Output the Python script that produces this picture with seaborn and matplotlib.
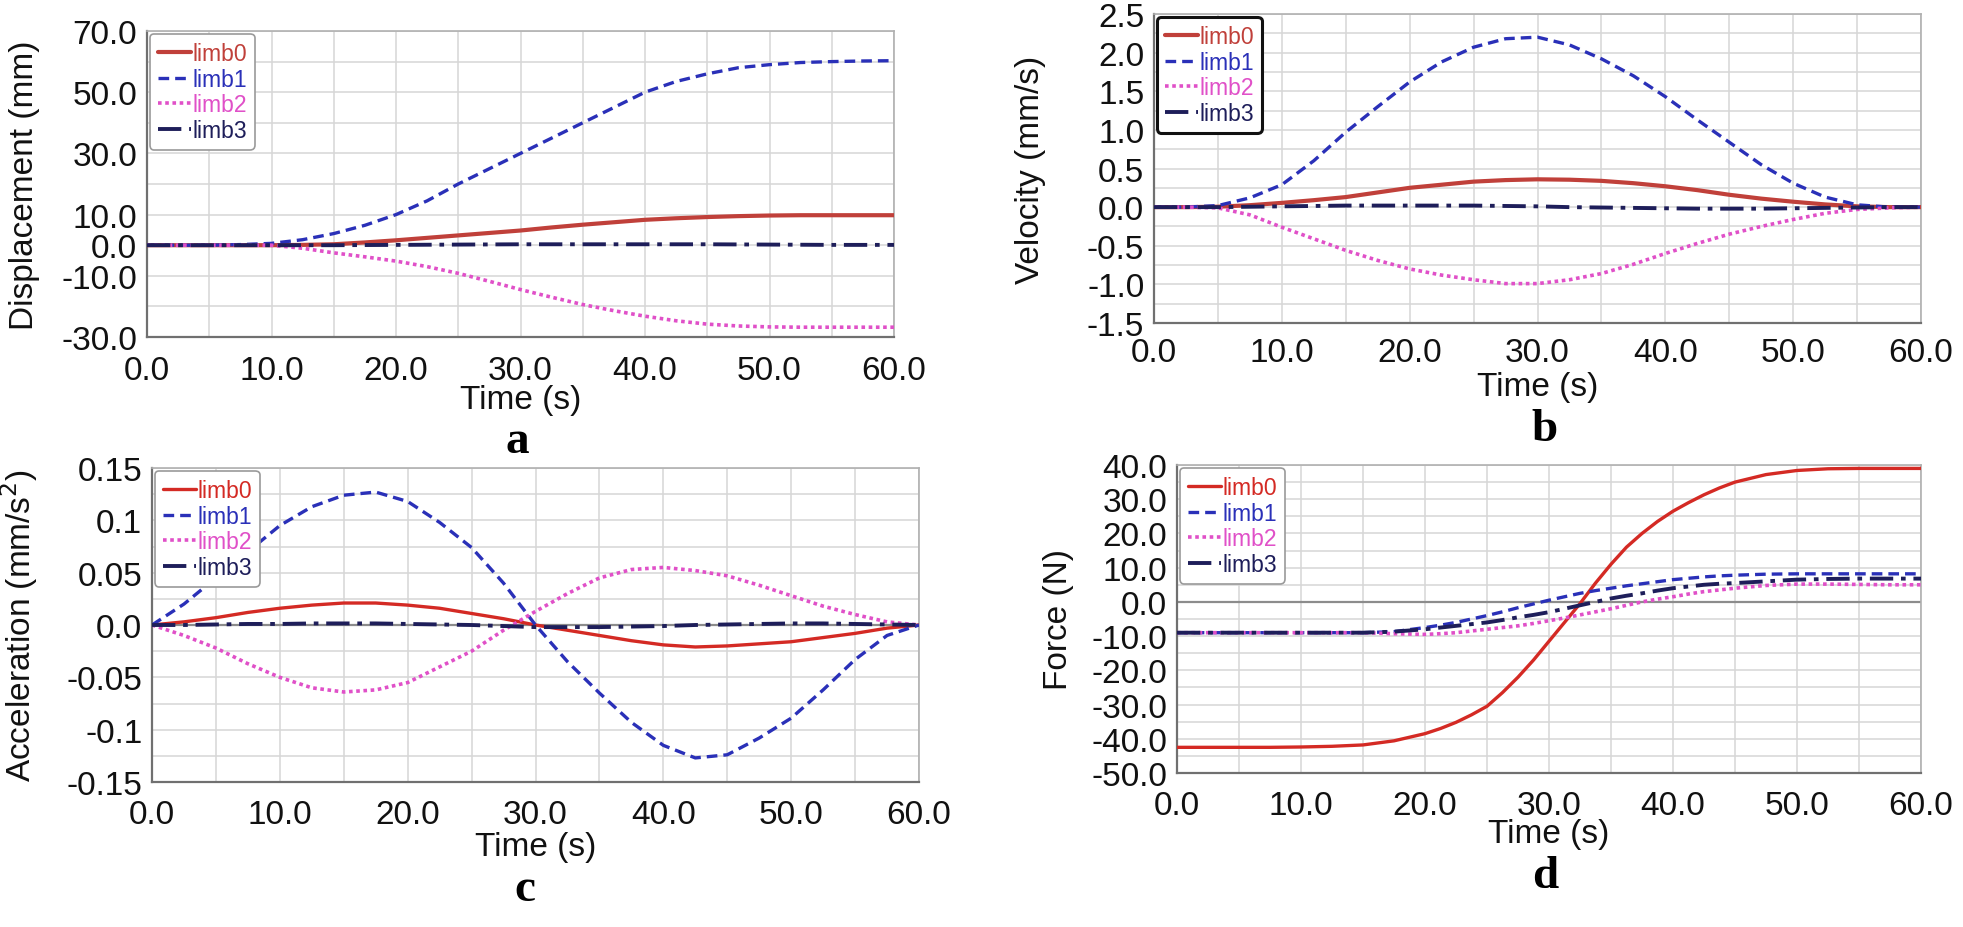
import numpy as np
import pandas as pd
import matplotlib
matplotlib.use("Agg")
import matplotlib.pyplot as plt
import seaborn as sns
from matplotlib.ticker import MultipleLocator, FixedLocator, FixedFormatter, FormatStrFormatter

sns.set_theme(style="white")
plt.rcParams['font.family'] = ['Liberation Sans', 'DejaVu Sans']

# ---------------- data ----------------
limb_names = ["limb0", "limb1", "limb2", "limb3"]

time_s = [0, 2.5, 5, 7.5, 10, 12.5, 15, 17.5, 20, 22.5, 25, 27.5, 30,
          32.5, 35, 37.5, 40, 42.5, 45, 47.5, 50, 52.5, 55, 57.5, 60]

disp_limb0 = [0, 0, 0, 0, 0, 0.1, 0.3, 0.9, 1.6, 2.4, 3.2, 4.0, 4.8, 5.8, 6.7, 7.5, 8.3, 8.8, 9.2, 9.5, 9.7, 9.8, 9.8, 9.8, 9.8]
disp_limb1 = [0, 0, 0, 0.2, 0.6, 1.8, 3.8, 6.5, 10, 14.5, 20, 25, 30, 35, 40, 45, 50, 53.5, 56, 58, 59, 59.7, 60, 60.2, 60.3]
disp_limb2 = [0, 0, 0, 0, 0, -1, -2.5, -3.8, -5.2, -7, -9.2, -11.8, -14.5, -17, -19.4, -21.4, -23.2, -24.7, -25.8, -26.4, -26.7, -26.8, -26.8, -26.8, -26.8]
disp_limb3 = [0, 0, 0, 0, 0, 0, 0, 0.05, 0.1, 0.15, 0.2, 0.25, 0.3, 0.3, 0.3, 0.3, 0.3, 0.3, 0.3, 0.25, 0.2, 0.15, 0.1, 0.1, 0.1]

vel_limb0 = [0, 0, 0.005, 0.025, 0.055, 0.09, 0.13, 0.19, 0.25, 0.29, 0.33, 0.35, 0.36, 0.355, 0.34, 0.31, 0.27, 0.22, 0.16, 0.11, 0.07, 0.035, 0.01, 0, 0]
vel_limb1 = [0, 0, 0.02, 0.12, 0.29, 0.6, 0.97, 1.3, 1.62, 1.88, 2.07, 2.18, 2.2, 2.1, 1.92, 1.7, 1.43, 1.13, 0.84, 0.55, 0.31, 0.13, 0.03, 0, 0]
vel_limb2 = [0, 0, -0.01, -0.1, -0.26, -0.41, -0.56, -0.69, -0.8, -0.88, -0.94, -0.99, -0.99, -0.94, -0.86, -0.74, -0.6, -0.47, -0.35, -0.25, -0.16, -0.08, -0.03, -0.01, 0]
vel_limb3 = [0, 0, 0, 0.005, 0.01, 0.015, 0.02, 0.02, 0.02, 0.02, 0.02, 0.015, 0.01, 0, -0.005, -0.01, -0.015, -0.02, -0.02, -0.02, -0.015, -0.01, -0.005, 0, 0]

acc_limb0 = [0, 0.003, 0.007, 0.012, 0.016, 0.019, 0.021, 0.021, 0.019, 0.016, 0.011, 0.006, 0, -0.005, -0.010, -0.015, -0.019, -0.021, -0.020, -0.018, -0.016, -0.012, -0.008, -0.003, 0]
acc_limb1 = [0, 0.02, 0.045, 0.07, 0.095, 0.113, 0.124, 0.127, 0.118, 0.098, 0.074, 0.04, 0, -0.035, -0.065, -0.093, -0.115, -0.127, -0.124, -0.108, -0.089, -0.062, -0.033, -0.01, 0]
acc_limb2 = [0, -0.01, -0.022, -0.037, -0.05, -0.06, -0.064, -0.062, -0.055, -0.04, -0.025, -0.005, 0.013, 0.03, 0.045, 0.053, 0.055, 0.052, 0.047, 0.038, 0.028, 0.018, 0.01, 0.003, 0]
acc_limb3 = [0, 0, 0.0005, 0.001, 0.001, 0.0015, 0.0015, 0.0015, 0.001, 0.0005, 0, -0.001, -0.002, -0.002, -0.002, -0.0015, -0.001, 0, 0.0005, 0.001, 0.0015, 0.0015, 0.001, 0.0005, 0]

force_time_s = [0, 2.5, 5, 7.5, 10, 12.5, 15, 17.5,
                20, 21.25, 22.5, 23.75, 25, 26.25, 27.5, 28.75, 30, 31.25, 32.5, 33.75, 35,
                36.25, 37.5, 38.75, 40, 41.25, 42.5, 43.75, 45,
                47.5, 50, 52.5, 55, 57.5, 60]
force_limb0 = [-42.5, -42.5, -42.5, -42.5, -42.4, -42.2, -41.8, -40.6,
               -38.5, -37, -35.2, -33, -30.5, -26.5, -22, -17, -11.5, -6, -0.5, 5.5, 11,
               16, 20, 23.5, 26.5, 29, 31.3, 33.3, 35,
               37.2, 38.4, 38.9, 39, 39, 39]
force_limb1 = [-9, -9, -9, -9, -9, -9, -9, -8.7,
               -7.5, -6.8, -6, -5, -4, -2.9, -1.7, -0.6, 0.5, 1.5, 2.5, 3.3, 4,
               4.7, 5.3, 5.9, 6.5, 6.9, 7.3, 7.6, 7.8,
               8.1, 8.2, 8.2, 8.2, 8.2, 8.2]
force_limb2 = [-9, -9, -9, -9, -9, -9, -9, -9.3,
               -9.5, -9.3, -9, -8.5, -8, -7.5, -7, -6.3, -5.5, -4.7, -3.8, -2.9, -2,
               -1, 0, 0.8, 1.5, 2.3, 3, 3.5, 4,
               4.8, 5.2, 5.2, 5.1, 5, 5]
force_limb3 = [-9, -9, -9, -9, -9, -9, -9, -8.7,
               -8, -7.5, -7, -6.5, -6, -5.3, -4.5, -3.8, -3, -2, -1, 0, 1,
               1.8, 2.5, 3.3, 4, 4.5, 5, 5.3, 5.5,
               6, 6.5, 6.7, 6.8, 6.8, 6.8]

x_ticks = [0, 10, 20, 30, 40, 50, 60]
disp_yticks = [-30, -10, 0, 10, 30, 50, 70]
vel_yticks = [-1.5, -1.0, -0.5, 0.0, 0.5, 1.0, 1.5, 2.0, 2.5]
acc_yticks = [-0.15, -0.1, -0.05, 0.0, 0.05, 0.1, 0.15]
acc_yticklabels = ["-0.15", "-0.1", "-0.05", "0.0", "0.05", "0.1", "0.15"]
force_yticks = [-50, -40, -30, -20, -10, 0, 10, 20, 30, 40]

# ---------------- styling ----------------
W, H = 1963, 928
fig = plt.figure(figsize=(W / 100, H / 100), dpi=100)

def frac_rect(l, r, t, b):
    return [l / W, 1 - b / H, (r - l) / W, (b - t) / H]

red_ab = "#C0403A"
red_cd = "#D42A24"
blue = "#2A30B8"
pink = "#E050C8"
navy = "#1E1E5A"
styles = [
    dict(ls="-", lw=3.0),
    dict(ls=(0, (3.2, 1.8)), lw=2.4),
    dict(ls=(0, (1.0, 1.0)), lw=2.6),
    dict(ls=(0, (6, 2, 1.2, 2)), lw=2.8),
]

TICK_FS = 24
LABEL_FS = 24

def draw_panel(rect, t, series, red, ylim, yticks, yminor, ylabel, ytl=None, yfmt="%.1f",
               legend_edge="#9A9A9A", legend_lw=1.2, zero_line=False, ylab_x=-0.14,
               xlab_y=-0.17, xpad=6, red_lw=3.0):
    ax = fig.add_axes(frac_rect(*rect))
    colors = [red, blue, pink, navy]
    ax.set_xlim(0, 60)
    ax.set_ylim(*ylim)
    ax.xaxis.set_major_locator(FixedLocator(x_ticks))
    ax.xaxis.set_minor_locator(MultipleLocator(5))
    ax.xaxis.set_major_formatter(FormatStrFormatter("%.1f"))
    ax.yaxis.set_major_locator(FixedLocator(yticks))
    ax.yaxis.set_minor_locator(MultipleLocator(yminor))
    if ytl is not None:
        ax.yaxis.set_major_formatter(FixedFormatter(ytl))
    else:
        ax.yaxis.set_major_formatter(FormatStrFormatter(yfmt))
    ax.grid(True, which="both", color="#D6D6D6", lw=1.1)
    ax.set_axisbelow(True)
    if zero_line:
        ax.axhline(0, color="#8C8C8C", lw=1.6, zorder=1.5)
    for i, (name, vals) in enumerate(zip(limb_names, series)):
        df = pd.DataFrame({"t": t, "v": vals})
        lw = red_lw if i == 0 else styles[i]["lw"]
        sns.lineplot(data=df, x="t", y="v", ax=ax, color=colors[i], label=name,
                     linestyle=styles[i]["ls"], lw=lw, zorder=3)
    for side in ["top", "right"]:
        ax.spines[side].set_color("#B0B0B0")
        ax.spines[side].set_linewidth(1.2)
    for side in ["left", "bottom"]:
        ax.spines[side].set_color("#707070")
        ax.spines[side].set_linewidth(1.6)
    ax.tick_params(axis="both", which="both", direction="out", color="#707070", length=4, width=1.2,
                   labelsize=TICK_FS, labelcolor="#111111", pad=3)
    ax.tick_params(axis="x", which="major", pad=xpad)
    ax.set_xlabel("Time (s)", fontsize=LABEL_FS, color="#111111")
    ax.xaxis.set_label_coords(0.5, xlab_y)
    ax.set_ylabel(ylabel, fontsize=LABEL_FS, color="#111111")
    ax.yaxis.set_label_coords(ylab_x, 0.5)
    leg = ax.legend(loc="upper left", fontsize=16.5, handlelength=1.45, handletextpad=0.05,
                    labelspacing=0.12, borderpad=0.35, borderaxespad=0.12, frameon=True,
                    fancybox=True, labelcolor="linecolor")
    fr = leg.get_frame()
    fr.set_edgecolor(legend_edge)
    fr.set_linewidth(legend_lw)
    fr.set_facecolor("white")
    fr.set_alpha(1)
    return ax

draw_panel((147, 894, 32, 338), time_s, [disp_limb0, disp_limb1, disp_limb2, disp_limb3], red_ab,
           (-30, 70), disp_yticks, 10, "Displacement (mm)", ylab_x=-0.143, xlab_y=-0.155, xpad=9)
draw_panel((1154, 1921, 15, 324), time_s, [vel_limb0, vel_limb1, vel_limb2, vel_limb3], red_ab,
           (-1.5, 2.5), vel_yticks, 0.25, "Velocity (mm/s)", legend_edge="#111111", legend_lw=2.2,
           ylab_x=-0.141, xlab_y=-0.155, xpad=6)
draw_panel((152, 919, 469, 783), time_s, [acc_limb0, acc_limb1, acc_limb2, acc_limb3], red_cd,
           (-0.15, 0.15), acc_yticks, 0.025, "Acceleration (mm/s$^2$)", ytl=acc_yticklabels,
           zero_line=True, ylab_x=-0.146, xlab_y=-0.155, xpad=8, red_lw=2.4)
draw_panel((1177, 1921, 466, 774), force_time_s, [force_limb0, force_limb1, force_limb2, force_limb3], red_cd,
           (-50, 40), force_yticks, 5, "Force (N)", zero_line=True, ylab_x=-0.138, xlab_y=-0.145,
           xpad=8, red_lw=2.4)

for letter, (x, y) in zip("abcd", [(517, 442), (1545, 430), (525, 890), (1545, 877)]):
    fig.text(x / W, 1 - y / H, letter, ha="center", va="center", fontsize=34,
             fontweight="bold", family="Liberation Serif", color="black")

fig.savefig("out.png", dpi=100, facecolor="white")
